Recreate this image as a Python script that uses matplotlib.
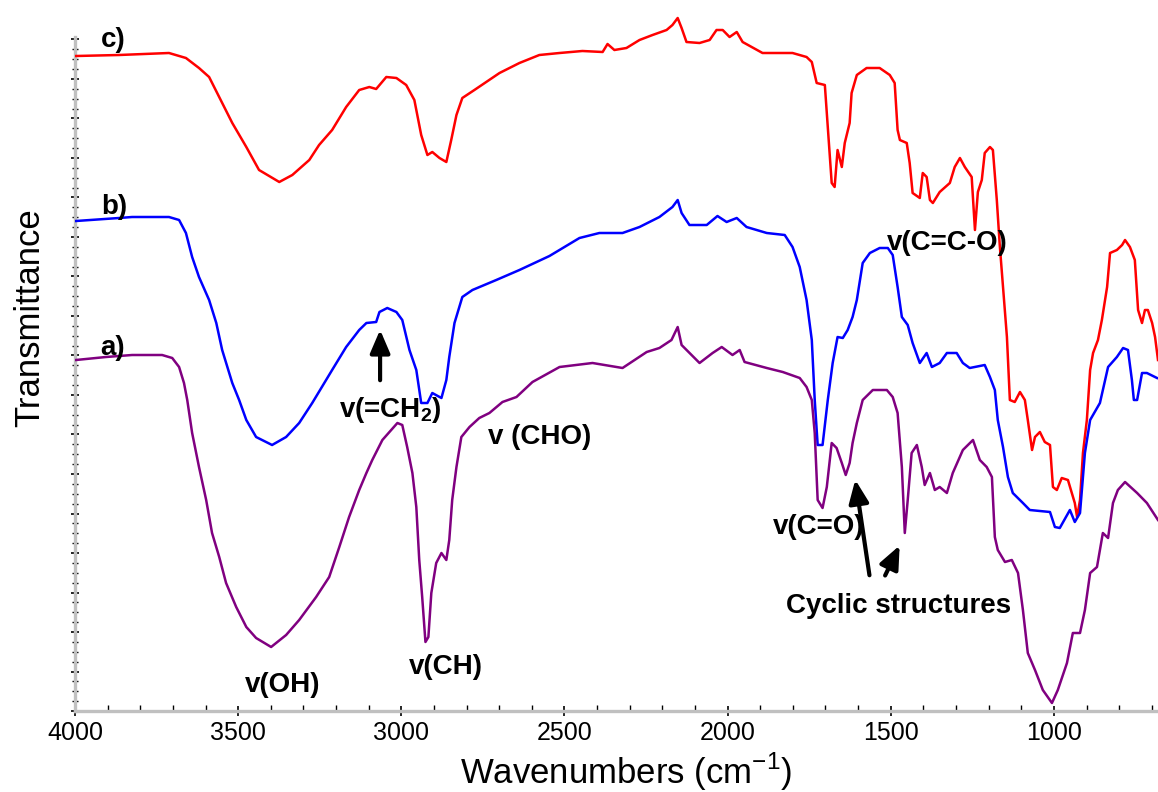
import matplotlib
matplotlib.use("Agg")
import matplotlib.pyplot as plt
from matplotlib.ticker import FixedLocator, MultipleLocator

plt.rcParams['font.family'] = ['Liberation Sans', 'DejaVu Sans']
plt.rcParams['mathtext.fontset'] = 'custom'
plt.rcParams['mathtext.rm'] = 'Liberation Sans'
plt.rcParams['mathtext.bf'] = 'Liberation Sans:bold'

# ---- data (wavenumber cm-1, transmittance arbitrary units) ----
wn_c = [3997, 3865, 3712, 3660, 3620, 3589, 3558, 3518, 3475, 3436, 3374, 3334, 3282, 3252, 3212, 3169,
        3129, 3098, 3077, 3046, 3015, 2985, 2960, 2939, 2920, 2905, 2883, 2862, 2847, 2831, 2813, 2776,
        2699, 2638, 2577, 2515, 2445, 2383, 2368, 2347, 2310, 2270, 2230, 2187, 2169, 2153, 2141, 2126,
        2086, 2055, 2034, 2015, 1994, 1972, 1954, 1893, 1801, 1758, 1742, 1727, 1702, 1693, 1681, 1672,
        1663, 1650, 1641, 1626, 1620, 1604, 1574, 1534, 1503, 1488, 1479, 1472, 1451, 1442, 1433, 1411,
        1402, 1390, 1380, 1371, 1350, 1319, 1304, 1288, 1273, 1252, 1242, 1233, 1221, 1212, 1196, 1187,
        1175, 1166, 1156, 1144, 1135, 1120, 1104, 1089, 1080, 1067, 1058, 1043, 1028, 1012, 1003, 991,
        976, 957, 945, 936, 929, 920, 911, 899, 889, 880, 865, 853, 837, 828, 807, 791, 782, 767, 752,
        742, 730, 721, 712, 699, 690, 681]
t_c = [65.5, 65.6, 65.8, 65.3, 64.3, 63.4, 61.4, 58.8, 56.4, 54.1, 52.9, 53.6, 55.1, 56.6, 58.1, 60.4,
       62.1, 62.4, 62.2, 63.4, 63.3, 62.6, 61.1, 57.6, 55.6, 55.9, 55.3, 54.9, 57.1, 59.6, 61.3, 62.1,
       63.8, 64.8, 65.6, 65.8, 66.0, 65.9, 66.7, 66.1, 66.3, 67.1, 67.6, 68.1, 68.6, 69.3, 68.3, 66.9,
       66.8, 67.1, 68.1, 68.1, 67.4, 67.9, 66.9, 65.8, 65.8, 65.4, 64.9, 62.8, 62.6, 58.4, 52.8, 52.4,
       56.1, 54.4, 56.8, 58.8, 61.8, 63.6, 64.3, 64.3, 63.6, 62.8, 58.1, 57.1, 56.8, 54.8, 51.8, 51.3,
       53.8, 53.4, 51.1, 50.8, 51.9, 52.8, 54.4, 55.3, 54.4, 53.4, 48.1, 51.9, 53.1, 55.8, 56.4, 56.1,
       51.1, 46.6, 42.4, 37.4, 31.1, 30.9, 31.9, 31.1, 29.1, 26.1, 27.4, 27.9, 26.9, 26.6, 22.4, 22.1,
       23.3, 23.1, 21.8, 20.8, 19.4, 21.1, 25.8, 29.1, 34.1, 35.8, 37.1, 39.1, 42.4, 45.8, 46.1, 46.6,
       47.1, 46.4, 45.1, 40.1, 38.8, 40.1, 40.1, 38.8, 37.4, 35.1]

wn_b = [3997, 3865, 3825, 3712, 3681, 3660, 3641, 3620, 3589, 3567, 3549, 3518, 3497, 3475, 3445, 3396,
        3353, 3313, 3273, 3212, 3169, 3129, 3107, 3077, 3067, 3043, 3015, 2997, 2975, 2954, 2939, 2920,
        2905, 2877, 2862, 2853, 2837, 2813, 2782, 2709, 2638, 2546, 2454, 2393, 2322, 2270, 2209, 2169,
        2153, 2141, 2117, 2064, 2031, 2003, 1972, 1942, 1880, 1825, 1801, 1779, 1758, 1742, 1733, 1724,
        1709, 1693, 1678, 1663, 1647, 1632, 1617, 1604, 1586, 1564, 1534, 1509, 1494, 1479, 1466, 1448,
        1433, 1411, 1390, 1374, 1350, 1328, 1298, 1279, 1258, 1212, 1196, 1181, 1172, 1156, 1141, 1126,
        1095, 1074, 1012, 997, 982, 951, 936, 920, 905, 889, 859, 834, 807, 788, 773, 761, 755, 745,
        730, 715, 684]
t_b = [49.0, 49.3, 49.4, 49.4, 49.1, 47.8, 45.4, 43.4, 41.1, 38.8, 36.1, 32.8, 31.1, 29.1, 27.4, 26.6,
       27.4, 28.8, 30.8, 34.1, 36.4, 38.1, 38.8, 38.9, 39.9, 40.3, 39.9, 39.1, 36.1, 34.1, 30.8, 30.8,
       31.8, 31.3, 33.1, 35.4, 38.8, 41.4, 42.1, 43.1, 44.1, 45.5, 47.3, 47.8, 47.8, 48.4, 49.4, 50.4,
       51.1, 49.8, 48.6, 48.6, 49.5, 48.9, 49.3, 48.4, 47.8, 47.6, 46.4, 44.4, 41.1, 37.1, 31.1, 26.6,
       26.6, 31.1, 34.8, 37.4, 37.3, 38.1, 39.4, 41.1, 44.8, 45.8, 46.3, 46.3, 45.6, 42.4, 39.4, 38.6,
       36.8, 34.8, 35.8, 34.4, 34.8, 35.8, 35.8, 34.8, 34.3, 34.6, 33.4, 32.1, 29.1, 26.4, 23.4, 21.8,
       20.8, 20.1, 19.9, 18.4, 18.3, 20.1, 18.9, 19.8, 25.8, 29.1, 30.8, 34.4, 35.4, 36.3, 36.1, 33.1,
       31.1, 31.1, 33.8, 33.8, 33.3]

wn_a = [3997, 3905, 3825, 3733, 3702, 3681, 3666, 3656, 3641, 3620, 3598, 3580, 3558, 3537, 3506, 3475,
        3445, 3399, 3353, 3313, 3261, 3221, 3190, 3160, 3129, 3107, 3089, 3058, 3012, 2997, 2982, 2966,
        2954, 2945, 2936, 2926, 2917, 2908, 2893, 2877, 2862, 2853, 2844, 2831, 2816, 2791, 2761, 2730,
        2690, 2647, 2598, 2515, 2414, 2322, 2248, 2209, 2172, 2153, 2141, 2086, 2046, 2018, 1985, 1963,
        1948, 1880, 1831, 1779, 1758, 1742, 1733, 1724, 1709, 1696, 1681, 1666, 1650, 1638, 1626, 1617,
        1604, 1586, 1555, 1512, 1494, 1479, 1466, 1457, 1448, 1436, 1420, 1405, 1396, 1380, 1365, 1350,
        1328, 1310, 1279, 1248, 1227, 1206, 1190, 1181, 1172, 1150, 1129, 1110, 1095, 1080, 1058, 1034,
        1006, 988, 960, 942, 920, 905, 889, 868, 850, 834, 819, 804, 782, 745, 715, 681]
t_a = [35.1, 35.4, 35.6, 35.6, 35.3, 34.4, 32.8, 31.1, 27.8, 24.4, 21.1, 17.8, 15.4, 12.8, 10.4, 8.4,
       7.3, 6.4, 7.6, 9.1, 11.4, 13.4, 16.4, 19.4, 22.1, 23.8, 25.1, 27.1, 28.8, 28.6, 26.4, 23.8,
       20.4, 15.1, 11.4, 6.9, 7.4, 11.8, 14.8, 15.8, 15.1, 17.1, 21.1, 24.4, 27.4, 28.4, 29.3, 29.8,
       30.9, 31.4, 32.9, 34.4, 34.8, 34.3, 35.9, 36.3, 37.1, 38.4, 36.6, 34.8, 35.8, 36.4, 35.6, 36.1,
       34.9, 34.3, 33.9, 33.3, 32.4, 31.1, 27.8, 21.1, 20.3, 22.4, 26.8, 26.3, 24.8, 23.6, 24.8, 26.8,
       28.8, 31.1, 32.1, 32.1, 31.4, 29.8, 24.4, 17.8, 21.1, 25.8, 26.6, 24.4, 22.6, 23.8, 22.1, 22.4,
       21.8, 23.8, 26.1, 27.1, 25.1, 24.4, 23.4, 17.4, 16.1, 14.9, 15.1, 13.8, 10.1, 5.8, 4.1, 2.1,
       0.8, 2.1, 4.8, 7.8, 7.8, 10.1, 13.8, 14.4, 17.8, 17.3, 20.8, 22.1, 22.9, 21.8, 20.8, 19.1]

x_ticks = [4000, 3500, 3000, 2500, 2000, 1500, 1000]
x_ticklabels = ['4000', '3500', '3000', '2500', '2000', '1500', '1000']

# ---- figure ----
fig = plt.figure(figsize=(11.58, 7.92), dpi=100)
ax = fig.add_axes([75 / 1158, 1 - 711 / 792, 1 - 75 / 1158, 706 / 792])

ax.plot(wn_c, t_c, color='#ff0000', lw=1.8, zorder=3)
ax.plot(wn_b, t_b, color='#0000ff', lw=1.8, zorder=3)
ax.plot(wn_a, t_a, color='#800080', lw=1.8, zorder=3)

for s in ['top', 'right']:
    ax.spines[s].set_visible(False)
for s in ['left', 'bottom']:
    ax.spines[s].set_color('#c0c0c0')
    ax.spines[s].set_linewidth(2.4)

ytop = 67.4
step = 3.95
ax.xaxis.set_major_locator(FixedLocator(x_ticks))
ax.set_xticklabels(x_ticklabels)
ax.xaxis.set_minor_locator(MultipleLocator(100))
ax.yaxis.set_major_locator(FixedLocator([i * step for i in range(18)]))
ax.yaxis.set_minor_locator(FixedLocator([i * step / 4 for i in range(69) if i % 4 and i * step / 4 <= ytop]))
ax.yaxis.set_major_formatter(plt.NullFormatter())
ax.tick_params(axis='x', which='major', direction='inout', length=7, width=1.2, color='black',
               labelsize=18, pad=4)
ax.tick_params(axis='x', which='minor', direction='in', length=4, width=1, color='black')
ax.tick_params(axis='y', which='major', direction='inout', length=6, width=1.2, color='black')
ax.tick_params(axis='y', which='minor', direction='inout', length=5, width=1, color='black')

ax.set_xlim(4000, 681)
ax.set_ylim(0, 70.6)
ax.spines['left'].set_bounds(0, ytop)

fig.text(30 / 1158, 1 - 318 / 792, 'Transmittance', rotation=90, fontsize=25,
         ha='center', va='center')
fig.text(626 / 1158, 1 - 772 / 792, 'Wavenumbers (cm$^{-1}$)', fontsize=25,
         ha='center', va='center')

tkw = dict(fontsize=20, fontweight='bold', ha='center', va='center', zorder=5)
ax.text(3884, 67.1, 'c)', **tkw)
ax.text(3880, 50.4, 'b)', **tkw)
ax.text(3884, 36.3, 'a)', **tkw)
ax.text(3363, 2.6, 'v(OH)', **tkw)
ax.text(2863, 4.4, 'v(CH)', **tkw)
ax.text(3035, 30.1, 'v(=CH$_\\mathbf{2}$)', **tkw)
ax.text(2575, 27.4, 'v (CHO)', **tkw)
ax.text(1720, 18.4, 'v(C=O)', **tkw)
ax.text(1328, 46.8, 'v(C=C-O)', **tkw)
ax.text(1475, 10.5, 'Cyclic structures', **tkw)

akw = dict(arrowstyle='-|>,head_length=1.4,head_width=0.6', color='black', lw=3)
ax.annotate('', xy=(3065, 38.4), xytext=(3065, 32.8), arrowprops=akw, zorder=5)
ax.annotate('', xy=(1610, 23.4), xytext=(1564, 13.3), arrowprops=akw, zorder=5)
ax.annotate('', xy=(1469, 16.8), xytext=(1521, 13.3), arrowprops=akw, zorder=5)

fig.savefig('out.png', dpi=100)
